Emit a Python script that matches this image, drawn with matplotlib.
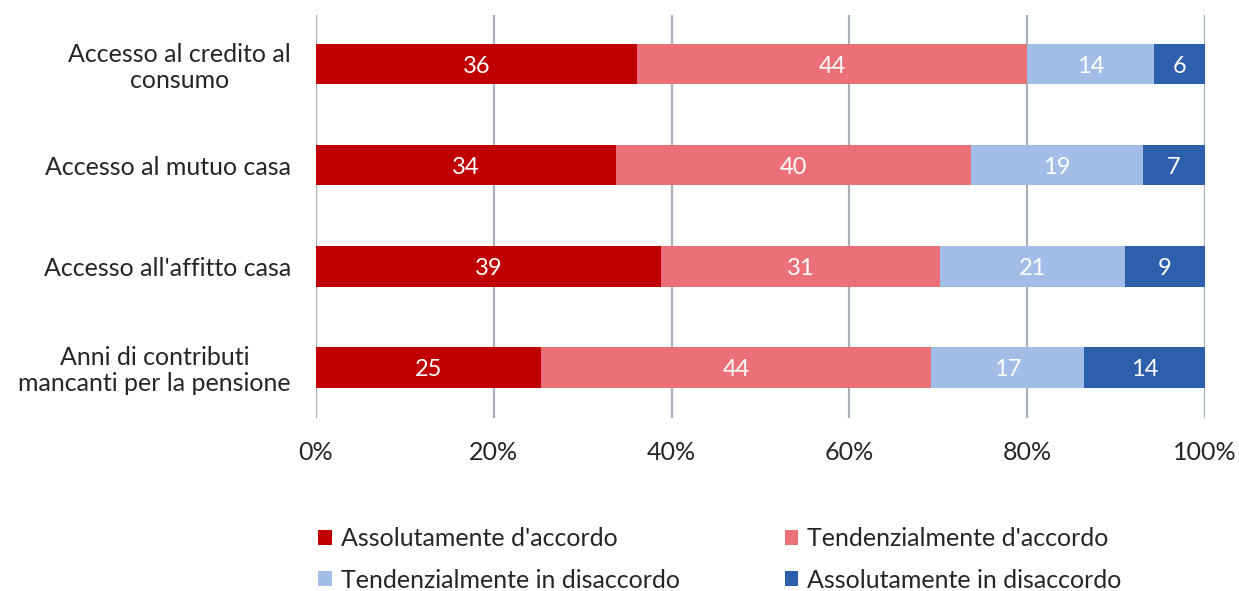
import matplotlib
matplotlib.use("Agg")
import matplotlib.pyplot as plt
import numpy as np

plt.rcParams['font.family'] = ['Lato', 'DejaVu Sans']

# categories (top to bottom)
categories = ["Accesso al credito al\nconsumo",
              "Accesso al mutuo casa",
              "Accesso all'affitto casa",
              "Anni di contributi\nmancanti per la pensione"]

# series values (% of respondents)
assol_accordo = [36.1, 33.7, 38.8, 25.3]
tend_accordo = [43.9, 40.0, 31.4, 43.9]
tend_disaccordo = [14.3, 19.3, 20.8, 17.2]
assol_disaccordo = [5.7, 7.0, 9.0, 13.6]

series_names = ["Assolutamente d'accordo", "Tendenzialmente d'accordo",
                "Tendenzialmente in disaccordo", "Assolutamente in disaccordo"]
colors = ["#C00000", "#EC7077", "#A2BEE6", "#2D5FAD"]

fig = plt.figure(figsize=(12.39, 5.91), dpi=100)
ax = fig.add_axes([0.255, 0.293, 0.7175, 0.682])

y = np.arange(len(categories))
left = np.zeros(len(categories))
handles = []
for vals, name, c in zip([assol_accordo, tend_accordo, tend_disaccordo, assol_disaccordo],
                         series_names, colors):
    bars = ax.barh(y, vals, left=left, height=0.4, color=c, label=name, zorder=3)
    handles.append(bars)
    for yi, l, v in zip(y, left, vals):
        ax.text(l + v / 2, yi + 0.02, str(int(round(v))), ha='center', va='center',
                color='white', fontsize=17, zorder=4)
    left = left + np.array(vals)

ax.set_xlim(0, 100)
ax.set_ylim(3.5, -0.49)
ax.set_xticks([0, 20, 40, 60, 80, 100])
ax.set_xticklabels(["0%", "20%", "40%", "60%", "80%", "100%"])
ax.set_yticks(y)
ax.set_yticklabels(categories, multialignment='center', linespacing=1.15)
ax.tick_params(axis='both', length=0, labelsize=18, labelcolor='#262626')
ax.tick_params(axis='y', pad=18)
ax.tick_params(axis='x', pad=17)
for s in ax.spines.values():
    s.set_visible(False)
ax.xaxis.grid(True, color='#A9B0B8', linewidth=1.6, zorder=0)
ax.axvline(0, color='#D9D9D9', linewidth=1.6, zorder=1)

order = [0, 2, 1, 3]
fig.legend([handles[i] for i in order], [series_names[i] for i in order],
           ncol=2, loc='upper left', bbox_to_anchor=(0.2385, 0.1465),
           frameon=False, fontsize=18, handlelength=0.55, handleheight=0.55,
           handletextpad=0.35, columnspacing=4.2, labelspacing=0.75,
           labelcolor='#262626')

fig.savefig("out.png", dpi=100)
